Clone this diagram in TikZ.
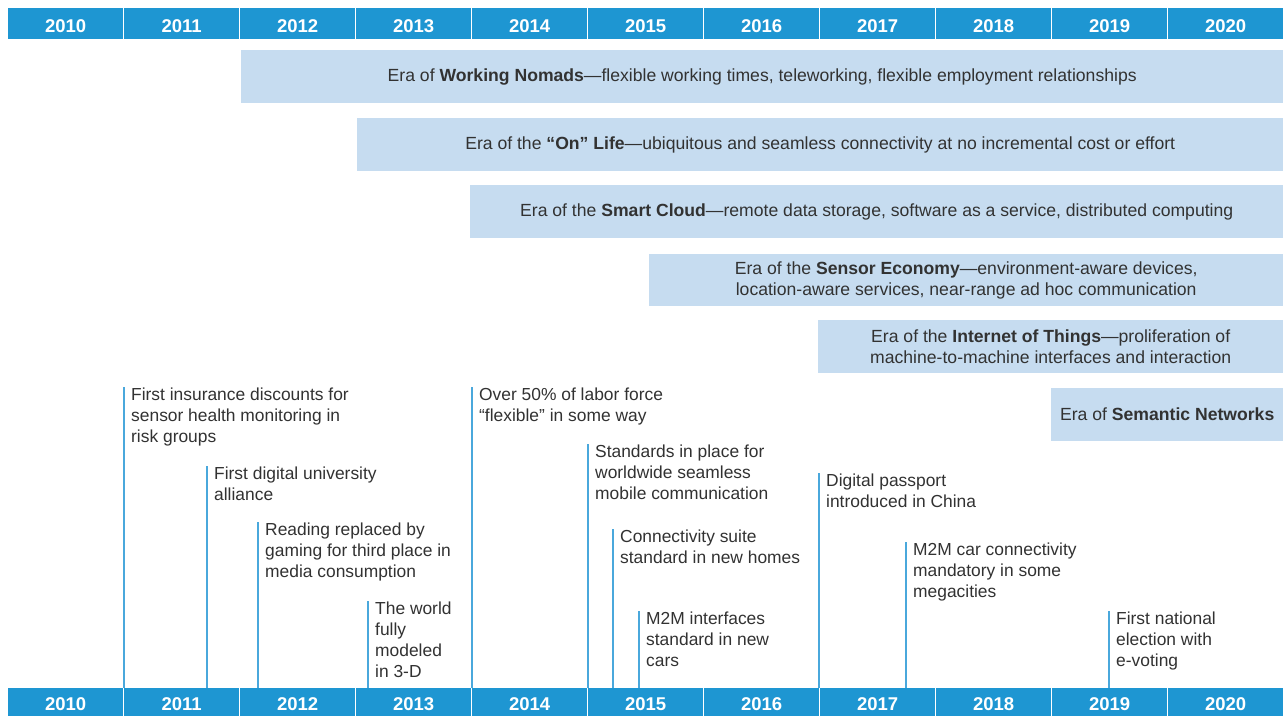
\documentclass[tikz,border=0pt]{standalone}
\usepackage{fontspec}
\setmainfont{Liberation Sans}
\definecolor{barblue}{RGB}{30,150,210}
\definecolor{erafill}{RGB}{198,220,240}
\definecolor{lineblue}{RGB}{74,168,220}
\definecolor{txt}{RGB}{50,50,50}
\tikzset{
  yearcell/.style={fill=barblue, draw=none, text=white, font=\fontsize{18.5}{20}\selectfont\bfseries,
    minimum width=115, minimum height=31, inner sep=0, text height=17.5, anchor=north west},
  erabox/.style={fill=erafill, draw=none, text=txt, font=\fontsize{17.6}{21}\selectfont,
    align=center, inner sep=0, anchor=north west},
  evtext/.style={text=txt, font=\fontsize{17.4}{21}\selectfont, align=left, inner sep=0, anchor=north west},
  evline/.style={draw=lineblue, line width=1.5}
}
\begin{document}
\begin{tikzpicture}[x=1pt,y=-1pt]
\useasboundingbox (0,0) rectangle (1283,716);
\fill[white] (0,0) rectangle (1283,716);
% year bars
\foreach \i in {0,...,10}{
  \pgfmathtruncatemacro\yr{2010+\i}
  \node[yearcell] (top\i) at (8+116*\i, 8) {\yr};
  \node[yearcell, minimum height=28] (bot\i) at (8+116*\i, 688) {\yr};
}
% era boxes
\node[erabox, minimum width=1042, minimum height=53] (era1) at (241,50)
  {Era of \textbf{Working Nomads}---flexible working times, teleworking, flexible employment relationships};
\node[erabox, minimum width=926, minimum height=53] (era2) at (357,118)
  {Era of the \textbf{``On'' Life}---ubiquitous and seamless connectivity at no incremental cost or effort};
\node[erabox, minimum width=813, minimum height=53] (era3) at (470,185)
  {Era of the \textbf{Smart Cloud}---remote data storage, software as a service, distributed computing};
\node[erabox, minimum width=634, minimum height=52] (era4) at (649,254)
  {Era of the \textbf{Sensor Economy}---environment-aware devices,\\location-aware services, near-range ad hoc communication};
\node[erabox, minimum width=465, minimum height=53] (era5) at (818,320)
  {Era of the \textbf{Internet of Things}---proliferation of\\machine-to-machine interfaces and interaction};
\node[erabox, minimum width=232, minimum height=53] (era6) at (1051,388)
  {Era of \textbf{Semantic Networks}};
% events
\coordinate (l1) at (124,387);
\coordinate (l2) at (207,466);
\coordinate (l3) at (258,522);
\coordinate (l4) at (368,601);
\coordinate (l5) at (472,387);
\coordinate (l6) at (588,444);
\coordinate (l7) at (613,529);
\coordinate (l8) at (639,611);
\coordinate (l9) at (819,473);
\coordinate (l10) at (906,542);
\coordinate (l11) at (1109,611);
\draw[evline] (l1) -- (l1 |- bot1.north);
\draw[evline] (l2) -- (l2 |- bot1.north);
\draw[evline] (l3) -- (l3 |- bot2.north);
\draw[evline] (l4) -- (l4 |- bot3.north);
\draw[evline] (l5) -- (l5 |- bot4.north);
\draw[evline] (l6) -- (l6 |- bot5.north);
\draw[evline] (l7) -- (l7 |- bot5.north);
\draw[evline] (l8) -- (l8 |- bot5.north);
\draw[evline] (l9) -- (l9 |- bot7.north);
\draw[evline] (l10) -- (l10 |- bot7.north);
\draw[evline] (l11) -- (l11 |- bot9.north);
\node[evtext] (e1) at ([shift={(7,1)}]l1) {First insurance discounts for\\sensor health monitoring in\\risk groups};
\node[evtext] (e2) at ([shift={(7,1)}]l2) {First digital university\\alliance};
\node[evtext] (e3) at ([shift={(7,1)}]l3) {Reading replaced by\\gaming for third place in\\media consumption};
\node[evtext] (e4) at ([shift={(7,1)}]l4) {The world\\fully\\modeled\\in 3-D};
\node[evtext] (e5) at ([shift={(7,1)}]l5) {Over 50\% of labor force\\``flexible'' in some way};
\node[evtext] (e6) at ([shift={(7,1)}]l6) {Standards in place for\\worldwide seamless\\mobile communication};
\node[evtext] (e7) at ([shift={(7,1)}]l7) {Connectivity suite\\standard in new homes};
\node[evtext] (e8) at ([shift={(7,1)}]l8) {M2M interfaces\\standard in new\\cars};
\node[evtext] (e9) at ([shift={(7,1)}]l9) {Digital passport\\introduced in China};
\node[evtext] (e10) at ([shift={(7,1)}]l10) {M2M car connectivity\\mandatory in some\\megacities};
\node[evtext] (e11) at ([shift={(7,1)}]l11) {First national\\election with\\e-voting};
\end{tikzpicture}
\end{document}
